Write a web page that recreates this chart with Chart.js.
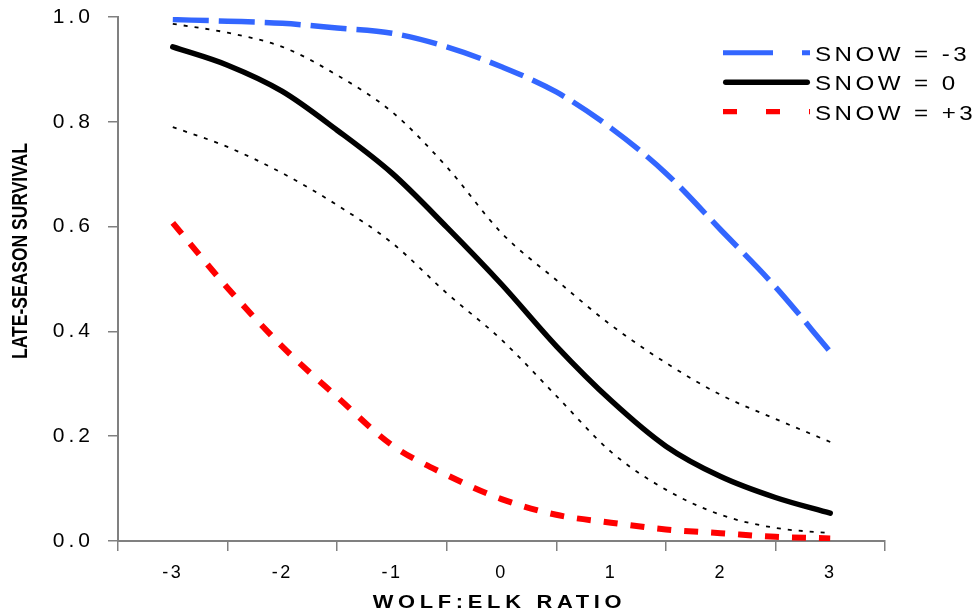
<!DOCTYPE html>
<html><head><meta charset="utf-8">
<script src="https://cdn.jsdelivr.net/npm/chart.js@4.4.1/dist/chart.umd.min.js"></script>
<style>html,body{margin:0;padding:0;background:#fff}#wrap{width:977px;height:614px}</style>
</head><body><div id="wrap"><canvas id="c" width="977" height="614"></canvas></div>
<script>
// ---- data ----
const wolfElkRatio = [-3, -2.5, -2, -1.5, -1, -0.5, 0, 0.5, 1, 1.5, 2, 2.5, 3];
const xTickValues = [-3, -2, -1, 0, 1, 2, 3];
const yTickValues = [0, 0.2, 0.4, 0.6, 0.8, 1.0];
const survivalSnowMinus3 = [0.995, 0.992, 0.988, 0.979, 0.969, 0.943, 0.905, 0.857, 0.788, 0.702, 0.594, 0.485, 0.361];
const survivalSnow0      = [0.943, 0.908, 0.858, 0.784, 0.702, 0.599, 0.490, 0.372, 0.268, 0.181, 0.123, 0.083, 0.053];
const survivalSnowPlus3  = [0.607, 0.483, 0.371, 0.275, 0.183, 0.126, 0.080, 0.050, 0.035, 0.022, 0.015, 0.008, 0.005];
const snow0Upper         = [0.987, 0.970, 0.943, 0.889, 0.819, 0.714, 0.588, 0.498, 0.412, 0.340, 0.279, 0.233, 0.189];
const snow0Lower         = [0.790, 0.752, 0.702, 0.641, 0.569, 0.473, 0.384, 0.277, 0.170, 0.098, 0.050, 0.025, 0.015];
const seriesLabels = ['SNOW = -3', 'SNOW = 0', 'SNOW = +3'];
const xAxisTitle = 'WOLF:ELK RATIO';
const yAxisTitle = 'LATE-SEASON SURVIVAL';

const pts = arr => wolfElkRatio.map((x, i) => ({x: x, y: arr[i]}));
const FONT = "'Liberation Sans', Arial, sans-serif";

const decorPlugin = {
  id: 'decor',
  beforeDraw(chart) { chart.ctx.letterSpacing = '4px'; },
  afterDatasetsDraw(chart) { chart.ctx.letterSpacing = '2.5px'; },
  afterDraw(chart) {
    const ctx = chart.ctx, a = chart.chartArea;
    ctx.save();
    // y title
    ctx.letterSpacing = '0px';
    ctx.fillStyle = '#000';
    ctx.font = "bold 17.5px " + FONT;
    ctx.save();
    ctx.translate(27.3, a.top + 234);
    ctx.rotate(-Math.PI / 2);
    ctx.scale(1, 1.25);
    ctx.textAlign = 'center';
    ctx.textBaseline = 'alphabetic';
    ctx.fillText(yAxisTitle, 0, 0);
    ctx.restore();
    // x title
    ctx.save();
    ctx.translate((a.left + a.right) / 2 - 2, a.bottom + 67);
    ctx.scale(1.25, 1);
    ctx.letterSpacing = '3.75px';
    ctx.textAlign = 'center';
    ctx.textBaseline = 'alphabetic';
    ctx.fillText(xAxisTitle, 0, 0);
    ctx.restore();
    // legend
    const items = chart.data.datasets.filter(d => d.legendDash);
    items.forEach((d, i) => {
      const y = a.top + 35.7 + i * 29.5;
      const x0 = a.right - 162, x1 = a.right - 75;
      ctx.save();
      ctx.strokeStyle = d.borderColor;
      ctx.lineWidth = d.legendWidth;
      ctx.lineCap = d.borderCapStyle || 'butt';
      ctx.setLineDash(d.legendDash);
      const cap = ctx.lineCap === 'round' ? d.legendWidth / 2 : 0;
      ctx.beginPath();
      ctx.moveTo(x0 + cap, y);
      ctx.lineTo(x1 - cap, y);
      ctx.stroke();
      ctx.restore();
      ctx.save();
      ctx.translate(a.right - 70, y + 8);
      ctx.scale(1.15, 1);
      ctx.font = "21px " + FONT;
      ctx.letterSpacing = '3px';
      ctx.fillStyle = '#000';
      ctx.textAlign = 'left';
      ctx.textBaseline = 'alphabetic';
      ctx.fillText(d.label, 0, 0);
      ctx.restore();
    });
    ctx.restore();
    ctx.letterSpacing = '0px';
  }
};

new Chart(document.getElementById('c'), {
  type: 'line',
  data: {
    datasets: [
      {label: seriesLabels[0], data: pts(survivalSnowMinus3), borderColor: '#3366ff', borderWidth: 5.5,
       borderDash: [36, 10], legendDash: [50, 29], legendWidth: 5, cubicInterpolationMode: 'monotone'},
      {label: seriesLabels[1], data: pts(survivalSnow0), borderColor: '#000000', borderWidth: 5.5,
       borderCapStyle: 'round', legendDash: [], legendWidth: 5.5, cubicInterpolationMode: 'monotone'},
      {label: seriesLabels[2], data: pts(survivalSnowPlus3), borderColor: '#ff0000', borderWidth: 6,
       borderDash: [14, 13], legendDash: [14, 29], legendWidth: 5.3, cubicInterpolationMode: 'monotone'},
      {label: 'upper', data: pts(snow0Upper), borderColor: '#000000', borderWidth: 1.8,
       borderDash: [4, 7], cubicInterpolationMode: 'monotone'},
      {label: 'lower', data: pts(snow0Lower), borderColor: '#000000', borderWidth: 1.8,
       borderDash: [4, 7], cubicInterpolationMode: 'monotone'}
    ]
  },
  options: {
    responsive: false,
    animation: false,
    devicePixelRatio: 1,
    elements: {point: {radius: 0, hoverRadius: 0}, line: {fill: false}},
    layout: {padding: {left: 0, top: 17, right: 92, bottom: 0}},
    plugins: {legend: {display: false}, tooltip: {enabled: false}, title: {display: false}},
    scales: {
      x: {
        type: 'linear', min: -3.5, max: 3.5,
        afterBuildTicks: s => { s.ticks = xTickValues.map(v => ({value: v})); },
        afterFit: s => { s.height = 73; s.paddingLeft = 0; s.paddingRight = 0; },
        grid: {offset: true, drawOnChartArea: false, drawTicks: true, tickLength: 10, color: '#808080', lineWidth: 1.5},
        border: {color: '#808080', width: 2},
        ticks: {z: 1, color: '#000', padding: 11, font: {family: FONT, size: 18}, callback: v => String(v), autoSkip: false, maxRotation: 0}
      },
      y: {
        type: 'linear', min: 0, max: 1,
        afterBuildTicks: s => { s.ticks = yTickValues.map(v => ({value: v})); },
        afterFit: s => { s.width = 118; s.paddingTop = 0; s.paddingBottom = 0; },
        grid: {drawOnChartArea: false, drawTicks: true, tickLength: 10, color: '#808080', lineWidth: 1.5},
        border: {color: '#808080', width: 2},
        ticks: {color: '#000', padding: 14, font: {family: FONT, size: 21}, callback: v => Number(v).toFixed(1)}
      }
    }
  },
  plugins: [decorPlugin]
});
</script>
</body></html>
